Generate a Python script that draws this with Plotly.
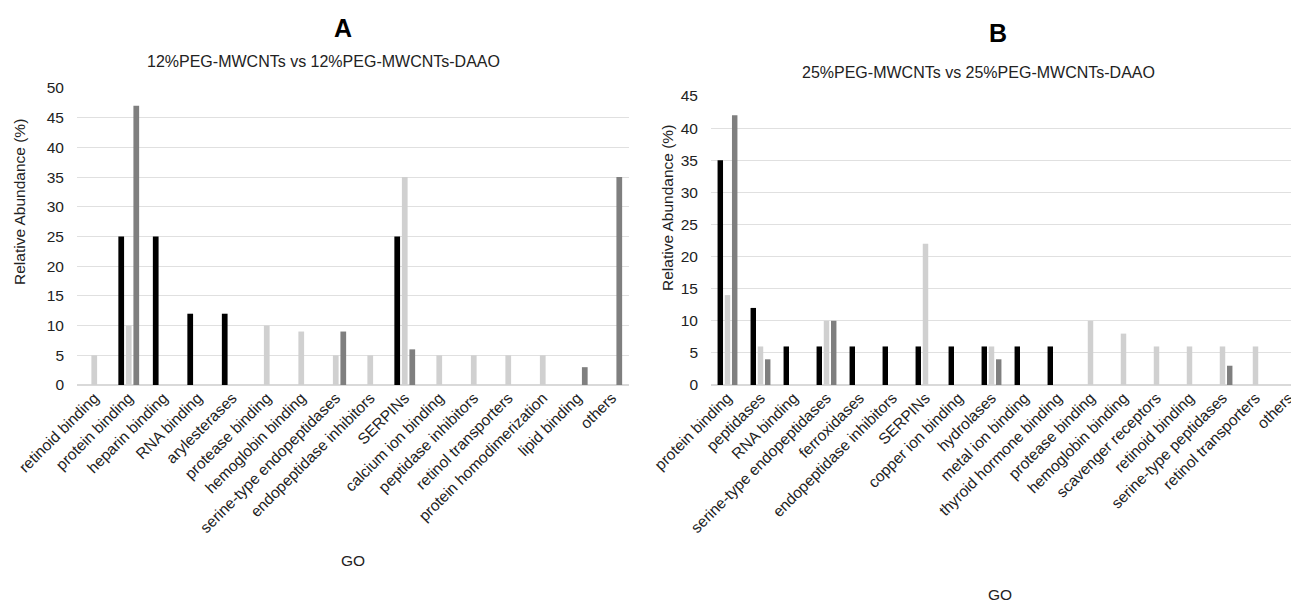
import plotly.graph_objects as go

# ---- Panel A data ----
cats_a = ["retinoid binding", "protein binding", "heparin binding", "RNA binding",
          "arylesterases", "protease binding", "hemoglobin binding",
          "serine-type endopeptidases", "endopeptidase inhibitors", "SERPINs",
          "calcium ion binding", "peptidase inhibitors", "retinol transporters",
          "protein homodimerization", "lipid binding", "others"]
a_black = [0, 25, 25, 12, 12, 0, 0, 0, 0, 25, 0, 0, 0, 0, 0, 0]
a_light = [5, 10, 0, 0, 0, 10, 9, 5, 5, 35, 5, 5, 5, 5, 0, 0]
a_dark = [0, 47, 0, 0, 0, 0, 0, 9, 0, 6, 0, 0, 0, 0, 3, 35]

# ---- Panel B data ----
cats_b = ["protein binding", "peptidases", "RNA binding", "serine-type endopeptidases",
          "ferroxidases", "endopeptidase inhibitors", "SERPINs", "copper ion binding",
          "hydrolases", "metal ion binding", "thyroid hormone binding",
          "protease binding", "hemoglobin binding", "scavenger receptors",
          "retinoid binding", "serine-type peptidases", "retinol transporters", "others"]
b_black = [35, 12, 6, 6, 6, 6, 6, 6, 6, 6, 6, 0, 0, 0, 0, 0, 0, 0]
b_light = [14, 6, 0, 10, 0, 0, 22, 0, 6, 0, 0, 10, 8, 6, 6, 6, 6, 0]
b_dark = [42, 4, 0, 10, 0, 0, 0, 0, 4, 0, 0, 0, 0, 0, 0, 3, 0, 0]

colors = ["#000000", "#d0d0d0", "#7f7f7f"]
FONT = "Liberation Sans, Arial, sans-serif"
W, H = 1310, 610
OFF = 8  # page body margin

fig = go.Figure()
for vals, col in zip([a_black, a_light, a_dark], colors):
    fig.add_trace(go.Bar(x=cats_a, y=vals, marker=dict(color=col, line=dict(width=0)),
                         xaxis="x", yaxis="y", showlegend=False))
for vals, col in zip([b_black, b_light, b_dark], colors):
    fig.add_trace(go.Bar(x=cats_b, y=vals, marker=dict(color=col, line=dict(width=0)),
                         xaxis="x2", yaxis="y2", showlegend=False))

def px(x):
    return (x - OFF) / W

def py(y):
    return 1 - (y - OFF) / H

TS = 15.5
axis_common = dict(showgrid=False, showline=False, ticks="", tickangle=-45, automargin=False,
                   tickfont=dict(family=FONT, size=TS, color="#222"), fixedrange=True)
yaxis_common = dict(showgrid=True, gridcolor="#e0e0e0", gridwidth=1, zeroline=True,
                    zerolinecolor="#d9d9d9", zerolinewidth=2, showline=False, ticks="",
                    automargin=False,
                    tickfont=dict(family=FONT, size=TS, color="#222"), dtick=5,
                    ticklabelstandoff=12)

fig.update_layout(
    width=W, height=H,
    margin=dict(l=0, r=0, t=0, b=0, autoexpand=False),
    paper_bgcolor="white", plot_bgcolor="white",
    barmode="group", bargap=0.345, bargroupgap=0.24,
    font=dict(family=FONT, size=TS, color="#222"),
    xaxis=dict(domain=[px(77), px(629)], anchor="y", **axis_common),
    yaxis=dict(domain=[py(385), py(88)], anchor="x", range=[0, 50], **yaxis_common),
    xaxis2=dict(domain=[px(711), px(1305)], anchor="y2", **axis_common),
    yaxis2=dict(domain=[py(385), py(96)], anchor="x2", range=[0, 45], **yaxis_common),
)

ann = [
    dict(text="<b>A</b>", x=px(343), y=py(28), font=dict(size=25, color="#000")),
    dict(text="12%PEG-MWCNTs vs 12%PEG-MWCNTs-DAAO", x=px(323), y=py(61), font=dict(size=16)),
    dict(text="<b>B</b>", x=px(998), y=py(33), font=dict(size=25, color="#000")),
    dict(text="25%PEG-MWCNTs vs 25%PEG-MWCNTs-DAAO", x=px(978), y=py(72), font=dict(size=16)),
    dict(text="GO", x=px(353), y=py(560)),
    dict(text="GO", x=px(1000), y=py(594)),
    dict(text="Relative Abundance (%)", x=px(19), y=py(202), textangle=-90),
    dict(text="Relative Abundance (%)", x=px(668), y=py(208), textangle=-90),
]
for a in ann:
    a.update(xref="paper", yref="paper", showarrow=False, xanchor="center", yanchor="middle")
    f = a.setdefault("font", {})
    f.setdefault("family", FONT)
    f.setdefault("size", TS)
    f.setdefault("color", "#222")
fig.update_layout(annotations=ann)

fig.write_html("out.html")
